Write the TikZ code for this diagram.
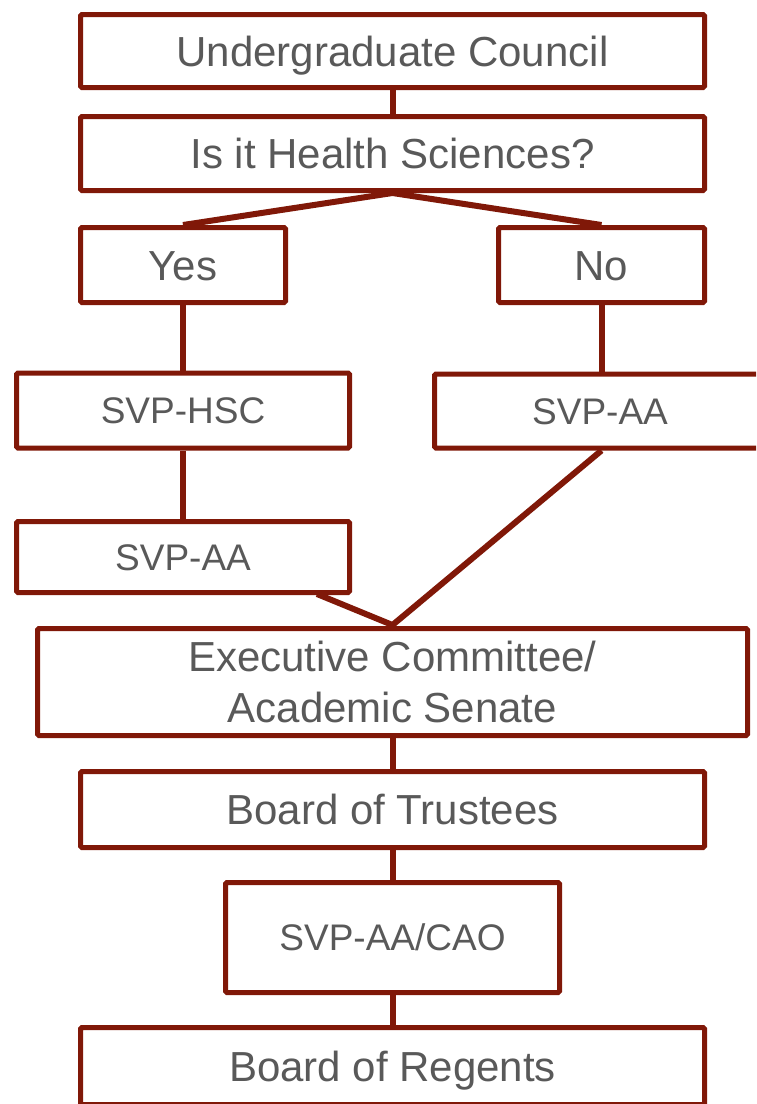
\documentclass[tikz,border=0pt]{standalone}
\usepackage{fontspec}
\setmainfont{Liberation Sans}
\definecolor{frame}{RGB}{128,24,8}
\definecolor{txt}{RGB}{89,89,89}
\begin{document}
\begin{tikzpicture}[x=1pt,y=-1pt,
  box/.style={draw=frame,line width=5pt,rounded corners=1.5pt,fill=white,inner sep=0pt,
    text=txt,font=\fontsize{42}{51}\selectfont,align=center,text height=30pt,text depth=0pt},
  sbox/.style={box,font=\fontsize{37}{44}\selectfont,text height=26.5pt},
  link/.style={draw=frame,line width=6pt}]
\useasboundingbox (0,0) rectangle (756,1104);
\clip (0,0) rectangle (756,1104);
\node[box,minimum width=624pt,minimum height=73pt] (uc) at (392.5,51) {Undergraduate Council};
\node[box,minimum width=624pt,minimum height=74pt] (hs) at (392.5,153.5) {Is it Health Sciences?};
\node[box,minimum width=205pt,minimum height=75pt] (yes) at (183,265) {Yes};
\node[box,minimum width=206pt,minimum height=75pt] (no) at (601.5,265) {No};
\node[sbox,minimum width=333pt,minimum height=75pt] (hsc) at (183,410.5) {SVP-HSC};
\node[sbox,minimum width=331pt,minimum height=74pt] (aar) at (600,411) {SVP-AA};
\node[sbox,minimum width=333pt,minimum height=71pt] (aal) at (183,557) {SVP-AA};
\node[box,minimum width=710pt,minimum height=107pt,text height=81pt] (ec) at (392.5,682) {Executive Committee/\\Academic Senate};
\node[box,minimum width=624pt,minimum height=76pt] (bot) at (392.5,809.5) {Board of Trustees};
\node[sbox,minimum width=334pt,minimum height=110pt] (cao) at (392.5,937.5) {SVP-AA/CAO};
\node[box,minimum width=624pt,minimum height=77pt] (bor) at (392.5,1066) {Board of Regents};
\coordinate (aalout) at (317,594);
\coordinate (hsout) at (392.5,193);
\coordinate (ectop) at (392.5,625);
\draw[link] (uc.south) -- (hs.north);
\draw[link,line join=bevel] (yes.north) -- (hsout) -- (no.north);
\draw[link] (yes.south) -- (hsc.north);
\draw[link] (no.south) -- (aar.north -| no.south);
\draw[link] (hsc.south) -- (aal.north);
\draw[link,line join=bevel] (aalout) -- (ectop) -- (aar.south -| no.south);
\draw[link] (ec.south) -- (bot.north);
\draw[link] (bot.south) -- (cao.north);
\draw[link] (cao.south) -- (bor.north);
\end{tikzpicture}
\end{document}
